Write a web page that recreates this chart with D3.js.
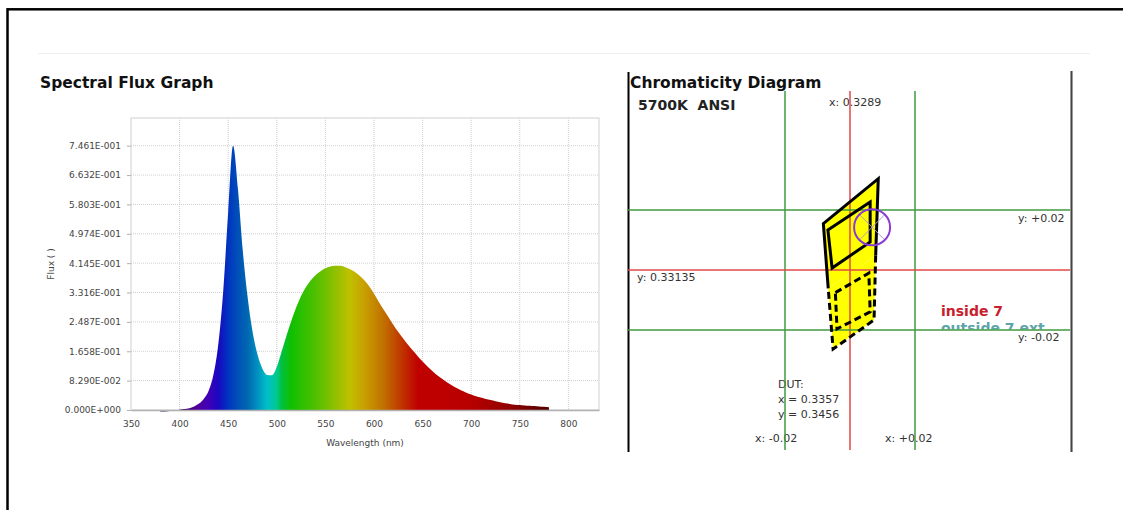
<!DOCTYPE html>
<html>
<head>
<meta charset="utf-8">
<script src="https://cdn.jsdelivr.net/npm/d3@7"></script>
<style>
  body { margin: 0; background: #fff; }
  svg { display: block; font-family: "DejaVu Sans", Verdana, sans-serif; }
</style>
</head>
<body>
<svg id="chart" width="1123" height="510"></svg>
<script>
// ---- spectral flux data ----
const wavelengths = [380, 385, 390, 395, 400, 405, 410, 415, 420, 425, 430, 435, 440, 445, 450, 455, 460, 465, 470, 475,
  480, 485, 490, 495, 500, 505, 510, 515, 520, 525, 530, 535, 540, 545, 550, 555, 560, 565, 570, 575,
  580, 585, 590, 595, 600, 605, 610, 615, 620, 625, 630, 635, 640, 645, 650, 655, 660, 665, 670, 675,
  680, 685, 690, 695, 700, 705, 710, 715, 720, 725, 730, 735, 740, 745, 750, 755, 760, 765, 770, 775, 780];
const flux = [-0.004, -0.004, -0.003, -0.002, 0.001, 0.003, 0.005, 0.010, 0.018, 0.032, 0.055, 0.102, 0.190, 0.340, 0.560, 0.746, 0.625, 0.450, 0.318, 0.222,
  0.158, 0.118, 0.099, 0.098, 0.122, 0.165, 0.210, 0.252, 0.290, 0.322, 0.347, 0.366, 0.381, 0.392, 0.400, 0.405, 0.407, 0.407, 0.404, 0.398,
  0.390, 0.380, 0.366, 0.349, 0.328, 0.305, 0.283, 0.262, 0.240, 0.220, 0.202, 0.184, 0.168, 0.152, 0.137, 0.123, 0.110, 0.098, 0.088, 0.078,
  0.070, 0.062, 0.055, 0.049, 0.044, 0.039, 0.035, 0.031, 0.028, 0.025, 0.022, 0.019, 0.017, 0.015, 0.014, 0.013, 0.012, 0.011, 0.010, 0.009, 0.008];
const xTicks = [350, 400, 450, 500, 550, 600, 650, 700, 750, 800];
const yTickLabels = ["0.000E+000", "8.290E-002", "1.658E-001", "2.487E-001", "3.316E-001",
  "4.145E-001", "4.974E-001", "5.803E-001", "6.632E-001", "7.461E-001"];

// ---- chromaticity data ----
const target = { x: 0.3289, y: 0.33135 };
const tolerance = 0.02;
const dut = { x: 0.3357, y: 0.3456 };
const upperOuter = [[0.3376, 0.3618], [0.3207, 0.3468], [0.3222, 0.3252], [0.3368, 0.3362]];
const upperInner = [[0.3351, 0.3540], [0.3221, 0.3447], [0.3234, 0.3320], [0.3351, 0.3407]];
const lowerOuter = [[0.3222, 0.3252], [0.3368, 0.3362], [0.3363, 0.3147], [0.3237, 0.3050]];
const lowerInner = [[0.3244, 0.3238], [0.3347, 0.3303], [0.3351, 0.3174], [0.3249, 0.3117]];

// colour of the spectrum fill by wavelength
const spectrumStops = [
  [380, "#2a0040"], [400, "#3a0060"], [420, "#5000a0"], [430, "#4000b8"], [440, "#1808c0"],
  [450, "#0034c0"], [460, "#0050b8"], [470, "#0068b0"], [480, "#0090c0"], [490, "#00c0c8"],
  [500, "#00c890"], [505, "#00c040"], [515, "#10c000"], [540, "#50c000"], [560, "#90c000"],
  [575, "#c0c000"], [590, "#c8a000"], [610, "#c07000"], [630, "#c03000"], [645, "#c00000"],
  [700, "#b80000"], [740, "#900000"], [780, "#500000"]
];

const svg = d3.select("#chart");
const defs = svg.append("defs");

// page frame + separator
svg.append("rect")
  .attr("x", 7.5).attr("y", 9.3).attr("width", 1200).attr("height", 600)
  .attr("fill", "none").attr("stroke", "#000").attr("stroke-width", 2.5);
svg.append("line")
  .attr("x1", 38).attr("x2", 1090).attr("y1", 53.5).attr("y2", 53.5)
  .attr("stroke", "#eeeeee").attr("stroke-width", 1);

// ================= Spectral Flux Graph =================
svg.append("text")
  .attr("x", 40).attr("y", 88)
  .attr("font-size", 15.5).attr("font-weight", "bold").attr("fill", "#111")
  .text("Spectral Flux Graph");

const plot = { left: 131, top: 118, right: 599, bottom: 410 };
const x = d3.scaleLinear().domain([350, 831.5]).range([plot.left, plot.right]);
const yTicks = yTickLabels.map(Number);
const y = d3.scaleLinear().domain([0, 0.8243]).range([plot.bottom, plot.top]);

// grid
const grid = svg.append("g").attr("stroke", "#cfcfcf").attr("stroke-dasharray", "1,1");
grid.selectAll(".vg").data(xTicks.slice(1)).enter().append("line")
  .attr("x1", d => x(d)).attr("x2", d => x(d))
  .attr("y1", plot.top).attr("y2", plot.bottom);
grid.selectAll(".hg").data(yTicks.slice(1)).enter().append("line")
  .attr("x1", plot.left).attr("x2", plot.right)
  .attr("y1", d => y(d)).attr("y2", d => y(d));

svg.append("rect")
  .attr("x", plot.left).attr("y", plot.top)
  .attr("width", plot.right - plot.left).attr("height", plot.bottom - plot.top)
  .attr("fill", "none").attr("stroke", "#d0d0d0");

// spectrum fill
const grad = defs.append("linearGradient")
  .attr("id", "spec").attr("gradientUnits", "userSpaceOnUse")
  .attr("x1", x(380)).attr("x2", x(780)).attr("y1", 0).attr("y2", 0);
grad.selectAll("stop").data(spectrumStops).enter().append("stop")
  .attr("offset", d => (x(d[0]) - x(380)) / (x(780) - x(380)))
  .attr("stop-color", d => d[1]);

const specData = wavelengths.map((w, i) => ({ w, v: flux[i] }));
svg.append("path")
  .datum(specData)
  .attr("fill", "url(#spec)")
  .attr("d", d3.area()
    .x(d => x(d.w))
    .y0(y(0))
    .y1(d => y(d.v))
    .curve(d3.curveMonotoneX));

// axes
svg.append("g")
  .attr("transform", `translate(0,${plot.bottom})`)
  .call(d3.axisBottom(x).tickValues(xTicks).tickSize(0).tickPadding(11).tickFormat(d3.format("d")))
  .call(g => g.select(".domain").attr("stroke", "#b0b0b0").attr("stroke-width", 1.5))
  .call(g => g.selectAll("text").attr("fill", "#444").attr("font-size", 9)
    .attr("font-family", "DejaVu Sans, Verdana, sans-serif"));

svg.append("g")
  .attr("transform", `translate(${plot.left},0)`)
  .call(d3.axisLeft(y).tickValues(yTicks).tickSize(4).tickPadding(6)
    .tickFormat((d, i) => yTickLabels[i]))
  .call(g => g.select(".domain").remove())
  .call(g => g.selectAll("line").attr("stroke", "#b0b0b0"))
  .call(g => g.selectAll("text").attr("fill", "#444").attr("font-size", 9)
    .attr("font-family", "DejaVu Sans, Verdana, sans-serif"));

svg.append("text")
  .attr("x", (plot.left + plot.right) / 2).attr("y", 446)
  .attr("text-anchor", "middle").attr("font-size", 9).attr("fill", "#444")
  .text("Wavelength (nm)");
svg.append("text")
  .attr("transform", `translate(54,${(plot.top + plot.bottom) / 2}) rotate(-90)`)
  .attr("text-anchor", "middle").attr("font-size", 9).attr("fill", "#444")
  .text("Flux ( )");

// ================= Chromaticity Diagram =================
const panel = { left: 628, right: 1070, top: 91, bottom: 450 };
const cx = d3.scaleLinear().domain([target.x - tolerance, target.x + tolerance]).range([785, 915]);
const cy = d3.scaleLinear().domain([target.y - tolerance, target.y + tolerance]).range([330, 210]);

svg.append("line")
  .attr("x1", panel.left + 0.5).attr("x2", panel.left + 0.5).attr("y1", 72).attr("y2", 452)
  .attr("stroke", "#000").attr("stroke-width", 2);
svg.append("rect")
  .attr("x", panel.right).attr("y", 71).attr("width", 3).attr("height", 381)
  .attr("fill", "#9a9a9a");
svg.append("line")
  .attr("x1", panel.right + 1.5).attr("x2", panel.right + 1.5).attr("y1", 71).attr("y2", 452)
  .attr("stroke", "#444").attr("stroke-width", 1);

svg.append("text")
  .attr("x", 630).attr("y", 88)
  .attr("font-size", 15.5).attr("font-weight", "bold").attr("fill", "#111")
  .text("Chromaticity Diagram");
svg.append("text")
  .attr("x", 638).attr("y", 110)
  .attr("font-size", 14).attr("font-weight", "bold").attr("fill", "#222")
  .attr("xml:space", "preserve")
  .text("5700K  ANSI");

// quadrangle fills
const quadPath = q => "M" + q.map(p => [cx(p[0]), cy(p[1])].join(",")).join("L") + "Z";
// outer quads share an edge that is not stroked, so their outlines are open paths
const openPath = q => "M" + q.map(p => [cx(p[0]), cy(p[1])].join(",")).join("L");
const fills = [upperOuter, lowerOuter, upperInner, lowerInner];
const outlines = [
  { d: openPath([upperOuter[2], upperOuter[1], upperOuter[0], upperOuter[3]]), dash: null },
  { d: openPath([lowerOuter[1], lowerOuter[2], lowerOuter[3], lowerOuter[0]]), dash: "7,4" },
  { d: quadPath(upperInner), dash: null },
  { d: quadPath(lowerInner), dash: "7,4" }
];
svg.append("g").selectAll("path").data(fills).enter().append("path")
  .attr("d", d => quadPath(d))
  .attr("fill", "#ffff00");

// reference lines
const vLines = [
  { v: target.x - tolerance, c: "#3f9a3f" },
  { v: target.x, c: "#e04848" },
  { v: target.x + tolerance, c: "#3f9a3f" }
];
const hLines = [
  { v: target.y + tolerance, c: "#3f9a3f" },
  { v: target.y, c: "#e04848" },
  { v: target.y - tolerance, c: "#3f9a3f" }
];

// labels (drawn before the lines so the lines sit on top)
const lab = svg.append("g").attr("font-size", 11).attr("fill", "#333");
lab.append("text").attr("x", cx(target.x) - 21).attr("y", 106).text("x: " + target.x);
lab.append("text").attr("x", cx(target.x - tolerance) - 30).attr("y", 442).text("x: -" + tolerance.toFixed(2));
lab.append("text").attr("x", cx(target.x + tolerance) - 30).attr("y", 442).text("x: +" + tolerance.toFixed(2));
lab.append("text").attr("x", 1018).attr("y", cy(target.y + tolerance) + 12).text("y: +" + tolerance.toFixed(2));
lab.append("text").attr("x", 1018).attr("y", cy(target.y - tolerance) + 11).text("y: -" + tolerance.toFixed(2));
lab.append("text").attr("x", 637).attr("y", cy(target.y) + 11).text("y: " + target.y);
lab.append("text").attr("x", 778).attr("y", 388).text("DUT:");
lab.append("text").attr("x", 778).attr("y", 403).text("x = " + dut.x);
lab.append("text").attr("x", 778).attr("y", 418).text("y = " + dut.y);

defs.append("clipPath").attr("id", "binclip")
  .append("rect").attr("x", 900).attr("y", 300).attr("width", 170).attr("height", cy(target.y - tolerance) - 300 - 0.5);
svg.append("text")
  .attr("x", 941).attr("y", 316)
  .attr("font-size", 14).attr("font-weight", "bold").attr("fill", "#c8202c")
  .text("inside 7");
svg.append("text")
  .attr("x", 941).attr("y", 333)
  .attr("clip-path", "url(#binclip)")
  .attr("font-size", 14).attr("font-weight", "bold").attr("fill", "#5ea4ac")
  .text("outside 7 ext");

svg.append("g").selectAll("line").data(vLines).enter().append("line")
  .attr("x1", d => cx(d.v)).attr("x2", d => cx(d.v))
  .attr("y1", panel.top).attr("y2", panel.bottom)
  .attr("stroke", d => d.c).attr("stroke-width", 1.5);
svg.append("g").selectAll("line").data(hLines).enter().append("line")
  .attr("x1", panel.left).attr("x2", panel.right)
  .attr("y1", d => cy(d.v)).attr("y2", d => cy(d.v))
  .attr("stroke", d => d.c).attr("stroke-width", 1.5);

// quadrangle outlines
svg.append("g").selectAll("path").data(outlines).enter().append("path")
  .attr("d", d => d.d)
  .attr("fill", "none")
  .attr("stroke", "#000").attr("stroke-width", 3)
  .attr("stroke-linejoin", "miter")
  .attr("stroke-dasharray", d => d.dash);

// DUT marker
const px = cx(dut.x), py = cy(dut.y), r = 18;
const cross = svg.append("g").attr("stroke", "#b59ac6").attr("stroke-width", 1);
[[1, 1], [1, -1]].forEach(([a, b]) => {
  cross.append("line")
    .attr("x1", px - a * r * 0.707).attr("y1", py - b * r * 0.707)
    .attr("x2", px + a * r * 0.707).attr("y2", py + b * r * 0.707);
});
svg.append("circle")
  .attr("cx", px).attr("cy", py).attr("r", r)
  .attr("fill", "none").attr("stroke", "#8a3ad6").attr("stroke-width", 2);
</script>
</body>
</html>
